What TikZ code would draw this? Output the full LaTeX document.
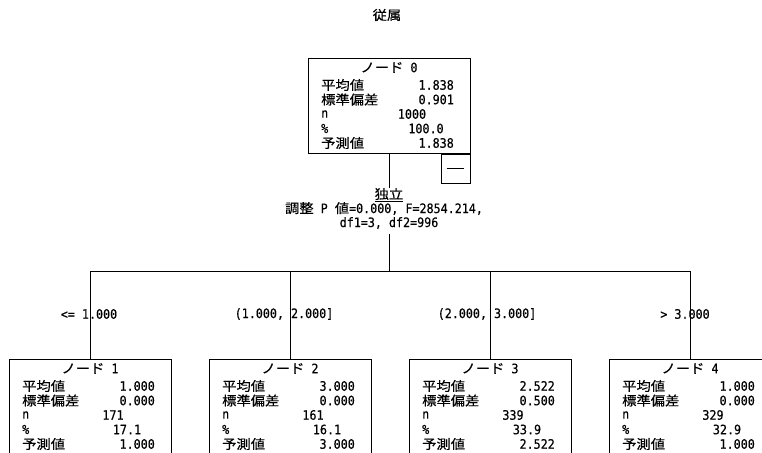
\documentclass[tikz,border=0pt]{standalone}
\usepackage{fontspec}
\setmainfont{DejaVu Sans Mono}[FakeStretch=0.9, FakeBold=0.4]
\newfontfamily\cjk{Noto Sans CJK JP}[Scale=1.0, FakeStretch=1.1, FakeBold=0.4]
\newcommand\fs{\fontsize{13}{15}\selectfont}
\newcommand\treebox[9]{%
  \node[box, minimum height=#4pt] (n#1) at (#2,#3) {};
  \node (t#1) at (#2,{#3+9.5}) {{\cjk ノード} #1};
  \node[lbl] (ml#1) at ({#2-68},{#3+27}) {\cjk 平均値};
  \node[val] (mv#1) at ({#2+65},{#3+27}) {#5};
  \node[lbl] (sl#1) at ({#2-68},{#3+41.5}) {\cjk 標準偏差};
  \node[val] (sv#1) at ({#2+65},{#3+41.5}) {#6};
  \node[lbl] (nl#1) at ({#2-68},{#3+56}) {n};
  \node (nv#1) at ({#2+23},{#3+56}) {#7};
  \node[lbl] (pl#1) at ({#2-68},{#3+70.5}) {\%};
  \node (pv#1) at ({#2+37},{#3+70.5}) {#8};
  \node[lbl] (rl#1) at ({#2-68},{#3+85}) {\cjk 予測値};
  \node[val] (rv#1) at ({#2+65},{#3+85}) {#9};
}
\begin{document}
\begin{tikzpicture}[x=1pt,y=-1pt,
  every node/.style={inner sep=0pt, font=\fs},
  box/.style={draw, line width=0.8pt, minimum width=162pt, anchor=north},
  conn/.style={line width=0.8pt},
  lbl/.style={anchor=west},
  val/.style={anchor=east}]
\useasboundingbox (0,0) rectangle (762,452);
\clip (0,0) rectangle (762,452);
\fill[white] (0,0) rectangle (762,452);

\node (ttl) at (387,15) {\cjk 従属};

\treebox{0}{389}{58}{95}{1.838}{0.901}{1000}{100.0}{1.838}
\node[draw, line width=0.8pt, minimum width=29pt, minimum height=29pt, anchor=north east] (c0) at (n0.south east) {};
\draw[conn] ([xshift=6pt]c0.west) -- ([xshift=-6pt]c0.east);

\node (spv) at (389,195) {\cjk\underline{独立}};
\node (sp1) at (384,208.5) {{\cjk 調整} P {\cjk 値}=0.000, F=2854.214,};
\node (sp2) at (389,223) {df1=3, df2=996};
\coordinate (bar) at (389,271);

\treebox{1}{90}{359}{100}{1.000}{0.000}{171}{17.1}{1.000}
\treebox{2}{290}{359}{100}{3.000}{0.000}{161}{16.1}{3.000}
\treebox{3}{490}{359}{100}{2.522}{0.500}{339}{33.9}{2.522}
\treebox{4}{690}{359}{100}{1.000}{0.000}{329}{32.9}{1.000}

\draw[conn] (n0.south) -- (spv.north);
\draw[conn, shorten <=5pt] (sp2.south) -- (bar);
\draw[conn] (n1.north) -- (n1.north |- bar) -- (n4.north |- bar) -- (n4.north);
\draw[conn] (n2.north) -- (n2.north |- bar);
\draw[conn] (n3.north) -- (n3.north |- bar);

\node (e1) at (89,314) {<= 1.000};
\node (e2) at (284,314) {(1.000, 2.000]};
\node (e3) at (487,314) {(2.000, 3.000]};
\node (e4) at (685,314) {> 3.000};
\end{tikzpicture}
\end{document}
